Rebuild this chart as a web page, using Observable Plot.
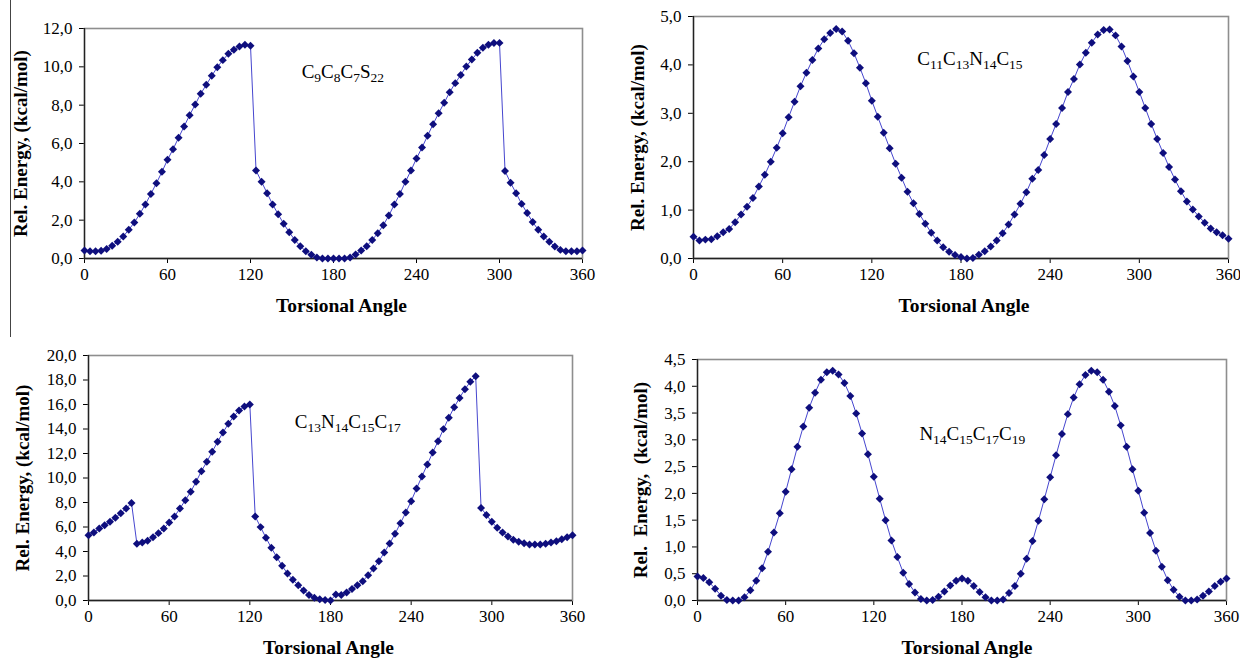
<!DOCTYPE html>
<html><head><meta charset="utf-8">
<script src="https://cdn.jsdelivr.net/npm/d3@7"></script>
<script src="https://cdn.jsdelivr.net/npm/@observablehq/plot@0.6"></script>
<style>
body{margin:0;background:#fff;}
#wrap{position:relative;width:1240px;height:659px;overflow:hidden;background:#fff;}
.panel{position:absolute;}
#sep{position:absolute;left:10px;top:0;width:1px;height:337px;background:#444;}
</style></head><body><div id="wrap"><div id="sep"></div></div>
<script>
// ---- data ----
const angles = [0,4,8,12,16,20,24,28,32,36,40,44,48,52,56,60,64,68,72,76,80,84,88,92,96,100,104,108,112,116,120,
124,128,132,136,140,144,148,152,156,160,164,168,172,176,180,184,188,192,196,200,204,208,212,216,220,224,228,232,236,240,
244,248,252,256,260,264,268,272,276,280,284,288,292,296,300,304,308,312,316,320,324,328,332,336,340,344,348,352,356,360];

const energy1 = [0.42,0.38,0.38,0.40,0.49,0.66,0.87,1.15,1.50,1.88,2.33,2.82,3.37,3.93,4.52,5.15,5.70,6.30,6.89,7.48,8.03,8.59,9.06,9.53,9.98,10.35,10.68,10.89,11.06,11.15,11.10,
4.59,4.00,3.41,2.82,2.31,1.81,1.37,0.97,0.64,0.38,0.19,0.05,0.0,0.0,0.0,0.0,0.0,0.05,0.21,0.42,0.64,0.97,1.32,1.74,2.24,2.82,3.37,4.00,4.59,5.22,
5.79,6.40,7.01,7.58,8.12,8.68,9.15,9.58,10.02,10.38,10.73,10.99,11.15,11.24,11.25,4.56,3.95,3.41,2.85,2.37,1.90,1.50,1.15,0.87,0.63,0.45,0.38,0.38,0.38,0.42];

const energy2 = [0.45,0.37,0.39,0.40,0.46,0.54,0.61,0.75,0.91,1.07,1.25,1.49,1.73,2.00,2.29,2.59,2.92,3.24,3.56,3.84,4.10,4.34,4.53,4.66,4.74,4.69,4.50,4.24,3.94,3.62,3.26,
2.93,2.60,2.28,1.96,1.67,1.38,1.14,0.92,0.72,0.53,0.37,0.23,0.14,0.07,0.03,0.0,0.01,0.08,0.15,0.25,0.37,0.52,0.70,0.91,1.13,1.37,1.65,1.83,2.14,2.47,
2.78,3.11,3.44,3.71,4.01,4.25,4.46,4.63,4.72,4.73,4.61,4.38,4.08,3.76,3.44,3.11,2.78,2.47,2.18,1.89,1.63,1.39,1.18,1.01,0.87,0.74,0.62,0.54,0.48,0.41];

const energy3 = [5.33,5.55,5.88,6.15,6.42,6.75,7.13,7.51,7.95,4.63,4.73,4.87,5.17,5.50,5.88,6.37,6.86,7.51,8.19,8.87,9.69,10.56,11.32,12.14,12.95,13.71,14.42,15.02,15.51,15.84,16.00,
6.86,5.99,5.12,4.30,3.54,2.83,2.20,1.69,1.25,0.82,0.44,0.22,0.11,0.05,0.0,0.49,0.44,0.65,0.93,1.25,1.58,2.07,2.61,3.21,3.92,4.65,5.44,6.31,7.18,8.11,
9.14,10.12,11.10,12.08,13.00,13.99,14.91,15.78,16.54,17.25,17.85,18.31,7.56,6.97,6.42,5.93,5.55,5.22,4.95,4.79,4.68,4.57,4.57,4.57,4.63,4.73,4.84,5.00,5.17,5.33];

const energy4 = [0.45,0.42,0.34,0.22,0.09,0.01,0.0,0.0,0.06,0.19,0.37,0.60,0.91,1.27,1.63,2.03,2.45,2.87,3.25,3.60,3.88,4.12,4.26,4.29,4.22,4.06,3.82,3.49,3.12,2.73,2.31,
1.90,1.50,1.12,0.81,0.52,0.31,0.15,0.03,0.0,0.01,0.07,0.17,0.28,0.37,0.41,0.37,0.27,0.16,0.06,0.0,0.0,0.02,0.14,0.27,0.50,0.78,1.11,1.49,1.89,2.30,
2.71,3.11,3.48,3.79,4.04,4.21,4.29,4.26,4.12,3.90,3.63,3.27,2.87,2.45,2.05,1.64,1.26,0.93,0.63,0.38,0.20,0.07,0.0,0.0,0.02,0.09,0.17,0.27,0.35,0.41];

const xTicks = [0,60,120,180,240,300,360];
const yTicks1 = [0,2,4,6,8,10,12];
const yTicks2 = [0,1,2,3,4,5];
const yTicks3 = [0,2,4,6,8,10,12,14,16,18,20];
const yTicks4 = [0,0.5,1,1.5,2,2.5,3,3.5,4,4.5];

const formulas = ["C9C8C7S22","C11C13N14C15","C13N14C15C17","N14C15C17C19"];
const formulaAngle = [157, 150.6, 153.5, 151];
const formulaEnergy = [9.44, 3.99, 14.1, 2.99];

const xTitle = "Torsional Angle";
const yTitles = ["Rel. Energy, (kcal/mol)","Rel. Energy, (kcal/mol)","Rel. Energy, (kcal/mol)","Rel.\u00a0 Energy,\u00a0 (kcal/mol)"];

// ---- layout ----
const panels = [
  {values: energy1, ticks: yTicks1, left:0,   top:0,   w:620, h:330, ml:84, mr:38, mt:28, mb:72, ytdx:-64, xtdx:8},
  {values: energy2, ticks: yTicks2, left:620, top:0,   w:620, h:330, ml:73, mr:12, mt:16, mb:72, ytdx:-56, xtdx:3},
  {values: energy3, ticks: yTicks3, left:0,   top:330, w:620, h:329, ml:88, mr:48, mt:25, mb:59, ytdx:-66, xtdx:-2},
  {values: energy4, ticks: yTicks4, left:620, top:330, w:620, h:329, ml:77, mr:14, mt:29, mb:59, ytdx:-57, xtdx:5}
];

const fmt = d => d3.format(".1f")(d).replace(".", ",");
const wrap = document.getElementById("wrap");
const ns = "http://www.w3.org/2000/svg";

panels.forEach((p, i) => {
  const data = angles.map((a, k) => ({a, e: p.values[k]}));
  const chart = Plot.plot({
    width: p.w, height: p.h,
    marginLeft: p.ml, marginRight: p.mr, marginTop: p.mt, marginBottom: p.mb,
    style: {fontFamily: '"Liberation Serif","Times New Roman",serif', fontSize: "17px", color: "#000", background: "transparent", overflow: "visible"},
    x: {domain: [0, 360], ticks: xTicks, tickFormat: d => String(d), tickSize: 5, tickPadding: 4, label: null},
    y: {domain: [0, p.ticks[p.ticks.length - 1]], ticks: p.ticks, tickFormat: fmt, tickSize: 5, tickPadding: 7, label: null},
    marks: [
      Plot.frame({stroke: "#8e8e8e", strokeWidth: 1.6}),
      Plot.ruleX([0], {stroke: "#222", strokeWidth: 1.3}),
      Plot.ruleY([0], {stroke: "#222", strokeWidth: 1.3}),
      Plot.line(data, {x: "a", y: "e", stroke: "#4646cf", strokeWidth: 1}),
      Plot.dot(data, {x: "a", y: "e", symbol: "diamond2", r: 3.6, fill: "#0e0e7d"}),
      Plot.text([{x: formulaAngle[i], y: formulaEnergy[i], t: formulas[i]}],
        {x: "x", y: "y", text: "t", textAnchor: "start", lineAnchor: "bottom", fontSize: 19}),
      Plot.text([xTitle], {frameAnchor: "bottom", textAnchor: "middle", lineAnchor: "middle", dy: 47, dx: p.xtdx, text: d => d, fontWeight: "bold", fontSize: 19.5}),
      Plot.text([yTitles[i]], {frameAnchor: "left", textAnchor: "middle", lineAnchor: "middle", dx: p.ytdx, rotate: -90, text: d => d, fontWeight: "bold", fontSize: 19})
    ]
  });
  chart.classList.add("panel");
  chart.style.left = p.left + "px";
  chart.style.top = p.top + "px";
  wrap.appendChild(chart);

  // subscripts in the formula label
  const txt = Array.from(chart.querySelectorAll("text")).find(t => t.textContent === formulas[i]);
  if (txt) {
    const s = txt.textContent;
    while (txt.firstChild) txt.removeChild(txt.firstChild);
    let lowered = false;
    for (const m of s.matchAll(/([A-Z][a-z]?)(\d*)/g)) {
      if (!m[0]) continue;
      const a = document.createElementNS(ns, "tspan");
      a.textContent = m[1];
      if (lowered) a.setAttribute("dy", "-4");
      txt.appendChild(a);
      lowered = false;
      if (m[2]) {
        const b = document.createElementNS(ns, "tspan");
        b.textContent = m[2];
        b.setAttribute("dy", "4");
        b.setAttribute("font-size", "13.5");
        txt.appendChild(b);
        lowered = true;
      }
    }
  }
});
</script></body></html>
